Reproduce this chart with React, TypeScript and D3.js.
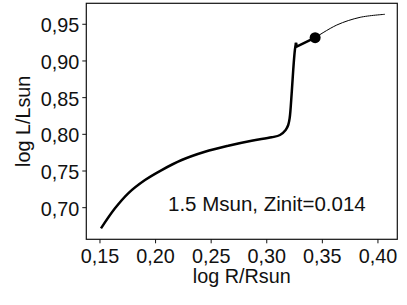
import React from "react";
import * as d3 from "d3";

const xTicks = [0.15, 0.2, 0.25, 0.3, 0.35, 0.4];
const yTicks = [0.7, 0.75, 0.8, 0.85, 0.9, 0.95];

// main (thick) track up to the turn-off
const trackR = [0.1509, 0.1635, 0.1754, 0.1905, 0.2055, 0.2235, 0.2444, 0.2654, 0.2864, 0.3044, 0.3119, 0.317, 0.3193, 0.3206, 0.3224, 0.3238, 0.3253, 0.3263];
const trackL = [0.6718, 0.6991, 0.7196, 0.7377, 0.7513, 0.765, 0.7763, 0.7845, 0.7913, 0.7959, 0.7991, 0.8059, 0.8127, 0.822, 0.8559, 0.8877, 0.915, 0.9249];
// hook after the turn-off
const hookR = [0.3263, 0.3269, 0.3435];
const hookL = [0.9249, 0.9195, 0.9317];
// thin continuation
const thinR = [0.3435, 0.363, 0.384, 0.4063];
const thinL = [0.9317, 0.949, 0.9595, 0.9636];
// marked point
const markR = [0.3435];
const markL = [0.9317];

const annotation = "1.5 Msun, Zinit=0.014";

const W = 407;
const H = 305;
const left = 86.3, right = 397.3, top = 3.3, bottom = 239.3;
const FONT = "'Liberation Sans', Arial, Helvetica, sans-serif";
const fmt = (v: number) => v.toFixed(2).replace(".", ",");

export default function App() {
  const x = d3.scaleLinear().domain([0.1377, 0.4174]).range([left, right]);
  const y = d3.scaleLinear().domain([0.6569, 0.9786]).range([bottom, top]);

  const zip = (a: number[], b: number[]) => a.map((v, i) => [v, b[i]] as [number, number]);
  const smooth = d3.line<[number, number]>().x(d => x(d[0])).y(d => y(d[1])).curve(d3.curveCatmullRom.alpha(0.5));
  const lin = d3.line<[number, number]>().x(d => x(d[0])).y(d => y(d[1]));

  return (
    <svg width={W} height={H} style={{ position: "absolute", left: 0, top: 0, background: "#fff" }} fontFamily={FONT}>
      <rect x={left} y={top} width={right - left} height={bottom - top} fill="none" stroke="#111" strokeWidth={1.2} />
      {xTicks.map(t => (
        <g key={"x" + t}>
          <line x1={x(t)} x2={x(t)} y1={bottom} y2={bottom + 4} stroke="#111" strokeWidth={1} />
          <text x={x(t)} y={bottom + 23.4} textAnchor="middle" fontSize={19.8} fill="#111">{fmt(t)}</text>
        </g>
      ))}
      {yTicks.map(t => (
        <g key={"y" + t}>
          <line x1={left - 4} x2={left} y1={y(t)} y2={y(t)} stroke="#111" strokeWidth={1} />
          <text x={left - 7} y={y(t) + 8} textAnchor="end" fontSize={19.8} fill="#111">{fmt(t)}</text>
        </g>
      ))}
      <text x={(left + right) / 2} y={282.7} textAnchor="middle" fontSize={19.8} fill="#111">log R/Rsun</text>
      <text transform={`translate(30,${(top + bottom) / 2}) rotate(-90)`} textAnchor="middle" fontSize={19.8} fill="#111">log L/Lsun</text>

      <path d={smooth(zip(trackR, trackL)) || ""} fill="none" stroke="#000" strokeWidth={2.5} strokeLinejoin="round" />
      <path d={lin(zip(hookR, hookL)) || ""} fill="none" stroke="#000" strokeWidth={2.5} strokeLinejoin="round" />
      <path d={smooth(zip(thinR, thinL)) || ""} fill="none" stroke="#000" strokeWidth={1} />
      {markR.map((r, i) => (
        <circle key={i} cx={x(r)} cy={y(markL[i])} r={5.5} fill="#000" />
      ))}
      <text x={168} y={211} fontSize={20.5} fill="#111">{annotation}</text>
    </svg>
  );
}
